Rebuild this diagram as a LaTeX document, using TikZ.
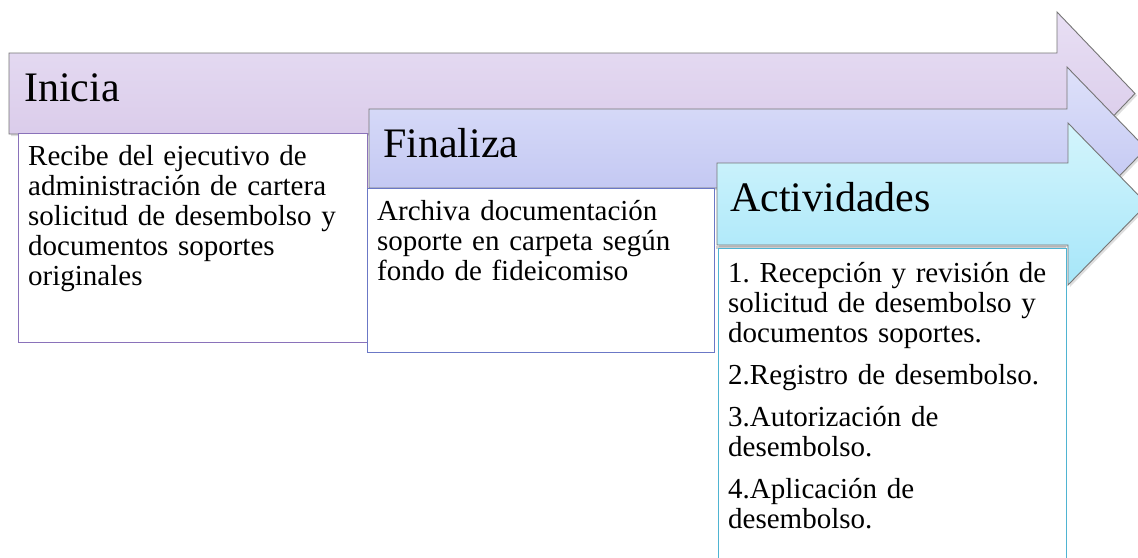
\documentclass[tikz,border=0pt]{standalone}
\usepackage{fontspec}
\setmainfont{Liberation Serif}
\definecolor{aoneT}{HTML}{E8DFF4}
\definecolor{aoneB}{HTML}{D6C6E7}
\definecolor{atwoT}{HTML}{DEE1FA}
\definecolor{atwoB}{HTML}{BBC0F0}
\definecolor{athrT}{HTML}{D4F5FC}
\definecolor{athrB}{HTML}{A6E6F9}
\definecolor{arrline}{HTML}{767676}
\definecolor{bonec}{HTML}{8A72BA}
\definecolor{btwoc}{HTML}{6B78C6}
\definecolor{bthrc}{HTML}{4FB4D2}
\tikzset{
  arrowshape/.style={draw=arrline, line width=0.9pt, line join=miter},
  arrowshadow/.style={fill=black, opacity=0.13},
  boxshape/.style={fill=white, line width=1.3pt, anchor=north west, inner sep=0pt},
  titletext/.style={anchor=base west, inner sep=0pt, font=\fontsize{42}{46}\selectfont},
  bodytext/.style={anchor=base west, inner sep=0pt, align=left, text width=340pt, font=\fontsize{29}{30}\selectfont\frenchspacing}
}
\begin{document}
\begin{tikzpicture}[x=1pt,y=-1pt]
\path[use as bounding box, fill=white] (0,0) rectangle (1138,557);
\clip (0,0) rectangle (1138,557);
% Arrow 1
\fill[arrowshadow] (11,55) -- (1059,55) -- (1059,14) -- (1137,95.5) -- (1059,177) -- (1059,136) -- (11,136) -- cycle;
\path[arrowshape, top color=aoneT, bottom color=aoneB] (9,53) -- (1057,53) -- (1057,12) -- (1135,93.5) -- (1057,175) -- (1057,134) -- (9,134) -- cycle;
\node[titletext] (t1) at (24,101) {Inicia};
\node[boxshape, draw=bonec, minimum width=349pt, minimum height=209pt] (b1) at (18,133) {};
\node[bodytext] (x1) at (28,165) {Recibe del ejecutivo de\\administración de cartera\\solicitud de desembolso y\\documentos soportes\\originales};
% Arrow 2
\fill[arrowshadow] (371,111) -- (1069,111) -- (1069,69) -- (1148,150.5) -- (1069,232) -- (1069,190) -- (371,190) -- cycle;
\path[arrowshape, top color=atwoT, bottom color=atwoB] (369,109) -- (1067,109) -- (1067,67) -- (1146,148.5) -- (1067,230) -- (1067,188) -- (369,188) -- cycle;
\node[titletext] (t2) at (383,157) {Finaliza};
\node[boxshape, draw=btwoc, minimum width=347pt, minimum height=164pt] (b2) at (367,188) {};
\node[bodytext] (x2) at (377,220) {Archiva documentación\\soporte en carpeta según\\fondo de fideicomiso};
% Arrow 3
\fill[arrowshadow] (719,165) -- (1070,165) -- (1070,125) -- (1149,206) -- (1070,287) -- (1070,247) -- (719,247) -- cycle;
\path[arrowshape, top color=athrT, bottom color=athrB] (717,163) -- (1068,163) -- (1068,123) -- (1147,204) -- (1068,285) -- (1068,245) -- (717,245) -- cycle;
\node[titletext] (t3) at (730,211) {Actividades};
\fill[black, opacity=0.18] (716,246) rectangle (1066,249);
\node[boxshape, draw=bthrc, minimum width=348pt, minimum height=330pt] (b3) at (718,248) {};
\node[bodytext] (x3) at (728,282) {1. Recepción y revisión de\\solicitud de desembolso y\\documentos soportes.\\[12pt]2.Registro de desembolso.\\[12pt]3.Autorización de\\desembolso.\\[12pt]4.Aplicación de\\desembolso.};
\end{tikzpicture}
\end{document}
